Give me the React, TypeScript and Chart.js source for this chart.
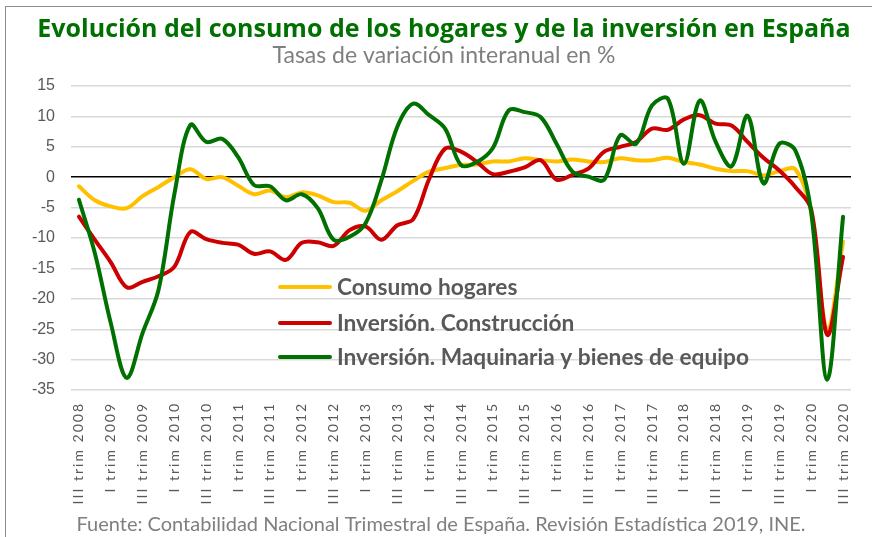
import React, { useEffect, useRef } from "react";
import { Chart, registerables } from "chart.js";

Chart.register(...registerables);

const quarters = [
  "III trim 2008", "IV trim 2008",
  "I trim 2009", "II trim 2009", "III trim 2009", "IV trim 2009",
  "I trim 2010", "II trim 2010", "III trim 2010", "IV trim 2010",
  "I trim 2011", "II trim 2011", "III trim 2011", "IV trim 2011",
  "I trim 2012", "II trim 2012", "III trim 2012", "IV trim 2012",
  "I trim 2013", "II trim 2013", "III trim 2013", "IV trim 2013",
  "I trim 2014", "II trim 2014", "III trim 2014", "IV trim 2014",
  "I trim 2015", "II trim 2015", "III trim 2015", "IV trim 2015",
  "I trim 2016", "II trim 2016", "III trim 2016", "IV trim 2016",
  "I trim 2017", "II trim 2017", "III trim 2017", "IV trim 2017",
  "I trim 2018", "II trim 2018", "III trim 2018", "IV trim 2018",
  "I trim 2019", "II trim 2019", "III trim 2019", "IV trim 2019",
  "I trim 2020", "II trim 2020", "III trim 2020",
];

const consumoHogares = [
  -1.5, -3.8, -4.8, -5.1, -3.1, -1.6, 0.0, 1.3, -0.3, 0.0,
  -1.4, -2.8, -2.2, -3.3, -2.5, -3.0, -4.1, -4.2, -5.5, -3.8,
  -2.3, -0.6, 0.9, 1.5, 2.0, 2.1, 2.6, 2.6, 3.1, 2.8,
  2.6, 2.9, 2.6, 2.5, 3.1, 2.8, 2.8, 3.2, 2.5, 2.1,
  1.4, 1.0, 1.0, 0.3, 1.0, 1.3, -5.8, -25.2, -10.6,
];

const inversionConstruccion = [
  -6.5, -10.3, -14.0, -18.1, -17.2, -16.3, -14.7, -9.0, -10.2, -10.8,
  -11.1, -12.6, -12.2, -13.6, -10.8, -10.7, -11.3, -8.7, -8.1, -10.3,
  -7.9, -6.9, -0.3, 4.7, 4.2, 2.5, 0.5, 0.9, 1.6, 2.8,
  -0.4, 0.4, 1.4, 4.2, 5.0, 5.8, 8.0, 7.8, 9.5, 10.2,
  8.8, 8.5, 5.8, 3.2, 1.1, -1.6, -5.3, -25.9, -13.1,
];

const inversionMaquinaria = [
  -3.7, -12.5, -24.0, -33.0, -25.6, -18.5, -2.7, 8.6, 5.8, 6.3,
  3.3, -1.3, -1.5, -3.8, -2.8, -5.1, -10.3, -9.8, -7.6, -0.5,
  8.3, 12.1, 10.2, 8.0, 2.0, 2.5, 4.8, 11.0, 10.7, 9.9,
  5.5, 0.9, 0.1, -0.4, 6.9, 5.5, 11.8, 12.9, 2.2, 12.6,
  5.8, 1.8, 10.1, -1.0, 5.5, 4.4, -5.8, -33.3, -6.5,
];

const yTicks = [15, 10, 5, 0, -5, -10, -15, -20, -25, -30, -35];

const seriesNames = [
  "Consumo hogares",
  "Inversión. Construcción",
  "Inversión. Maquinaria y bienes de equipo",
];

const titleText = "Evolución del consumo de los hogares y de la inversión en España";
const subtitleText = "Tasas de variación interanual en %";
const sourceText = "Fuente: Contabilidad Nacional Trimestral de España. Revisión Estadística 2019, INE.";

const COLORS = ["#FFC000", "#CC0000", "#007000"];

const textPlugin = {
  id: "texts",
  afterLayout(chart: any) {
    const xs = chart.scales.x;
    if (xs && !xs.__patched) {
      const orig = xs.drawLabels.bind(xs);
      xs.drawLabels = (area: any) => {
        const c = xs.ctx;
        c.save();
        c.letterSpacing = "2px";
        orig(area);
        c.restore();
      };
      xs.__patched = true;
    }
  },
  afterDraw(chart: any) {
    const ctx = chart.ctx;
    ctx.save();
    ctx.letterSpacing = "0px";
    ctx.textAlign = "center";
    ctx.textBaseline = "alphabetic";
    ctx.fillStyle = "#007000";
    ctx.font = "bold 25px 'Open Sans'";
    ctx.fillText(titleText, 444, 37);
    ctx.fillStyle = "#7f7f7f";
    ctx.font = "23px Lato";
    ctx.fillText(subtitleText, 444, 63);
    ctx.font = "20px Lato";
    ctx.fillText(sourceText, 441, 531);

    const rows = [287, 323, 357];
    chart.data.datasets.forEach((ds: any, i: number) => {
      ctx.strokeStyle = ds.borderColor;
      ctx.lineWidth = 4;
      ctx.lineCap = "round";
      ctx.beginPath();
      ctx.moveTo(280, rows[i]);
      ctx.lineTo(330, rows[i]);
      ctx.stroke();
      ctx.fillStyle = "#595959";
      ctx.font = "bold 22.7px Lato";
      ctx.textAlign = "left";
      ctx.textBaseline = "middle";
      ctx.fillText(ds.label, 337, rows[i] + 1);
    });
    ctx.restore();
  },
};

export default function App() {
  const canvasRef = useRef<HTMLCanvasElement | null>(null);

  useEffect(() => {
    document.body.style.margin = "0";
    const canvas = canvasRef.current;
    if (!canvas) return;
    const series = [consumoHogares, inversionConstruccion, inversionMaquinaria];
    const chart = new Chart(canvas, {
      type: "line",
      data: {
        labels: quarters,
        datasets: series.map((d, i) => ({
          label: seriesNames[i],
          data: d,
          borderColor: COLORS[i],
          backgroundColor: COLORS[i],
          borderWidth: 4,
          pointRadius: 0,
          tension: 0.35,
          fill: false,
          order: 2 - i,
          borderCapStyle: "round",
        })),
      },
      options: {
        animation: false,
        responsive: false,
        devicePixelRatio: 1,
        layout: { padding: { left: 0, right: 15, top: 86, bottom: 27 } },
        plugins: {
          legend: { display: false },
          title: { display: false },
          tooltip: { enabled: false },
        },
        scales: {
          x: {
            type: "category",
            offset: true,
            grid: { display: false, drawTicks: false },
            border: { display: false },
            ticks: {
              autoSkip: false,
              minRotation: 90,
              maxRotation: 90,
              padding: 12,
              color: "#595959",
              font: { family: "Lato", size: 14 },
              callback: (_v: any, idx: number) => (idx % 2 === 0 ? quarters[idx] : ""),
            },
            afterFit: (scale: any) => {
              scale.height = 120;
            },
          },
          y: {
            min: -35,
            max: 15,
            afterBuildTicks: (scale: any) => {
              scale.ticks = yTicks.map((v) => ({ value: v }));
            },
            grid: {
              drawTicks: false,
              color: (c: any) => (c.tick && c.tick.value === 0 ? "#000000" : "#d9d9d9"),
              lineWidth: (c: any) => (c.tick && c.tick.value === 0 ? 1.6 : 1.4),
            },
            border: { display: false },
            ticks: {
              padding: 16,
              color: "#595959",
              font: { family: "Liberation Sans", size: 16 },
            },
            afterFit: (scale: any) => {
              scale.width = 71;
            },
          },
        },
      },
      plugins: [textPlugin],
    });
    return () => chart.destroy();
  }, []);

  return (
    <div
      style={{
        position: "fixed",
        left: 0,
        top: 0,
        width: 872,
        height: 537,
        overflow: "hidden",
        background: "#ffffff",
      }}
    >
      <div
        style={{
          position: "absolute",
          left: 5,
          top: 6,
          width: 900,
          height: 600,
          border: "1px solid #8c8c8c",
        }}
      />
      <canvas
        ref={canvasRef}
        width={872}
        height={537}
        style={{ position: "absolute", left: 0, top: 0, width: 872, height: 537 }}
      />
    </div>
  );
}
